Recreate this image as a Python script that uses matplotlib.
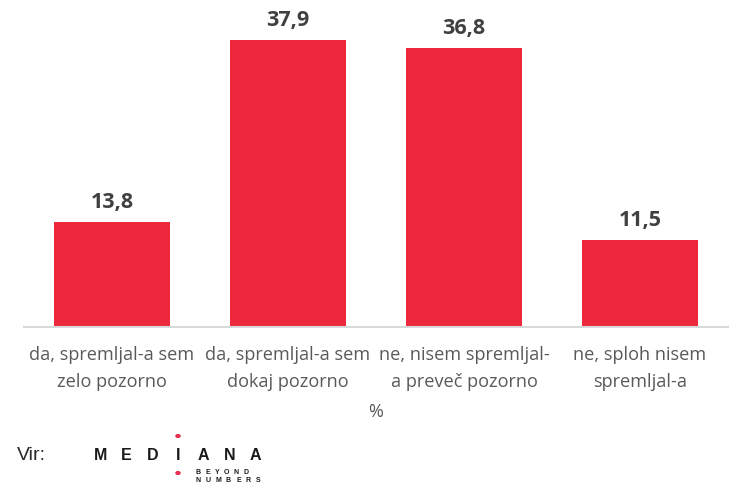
import matplotlib.pyplot as plt

categories = ['da, spremljal-a sem\nzelo pozorno', 'da, spremljal-a sem\ndokaj pozorno',
              'ne, nisem spremljal-\na preveč pozorno', 'ne, sploh nisem\nspremljal-a']
values = [13.8, 37.9, 36.8, 11.5]
value_labels = ['13,8', '37,9', '36,8', '11,5']

W, H = 751, 484
fig = plt.figure(figsize=(W / 100, H / 100), dpi=100)
ax = fig.add_axes([24 / W, 1 - 327 / H, 704 / W, 317 / H])

x = range(len(values))
ax.bar(x, values, width=0.66, color='#EE283C')
ax.set_xlim(-0.5, 3.5)
ax.set_ylim(0, 317 / 7.573)

for xi, v, lab in zip(x, values, value_labels):
    ax.text(xi, v + 1.2, lab, ha='center', va='bottom', fontsize=15.5, fontweight='bold',
            color='#404040', family='Open Sans')

for s in ['top', 'right', 'left']:
    ax.spines[s].set_visible(False)
ax.spines['bottom'].set_color('#D9D9D9')
ax.spines['bottom'].set_linewidth(1.5)
ax.set_yticks([])
ax.set_xticks(list(x))
ax.set_xticklabels(categories, fontsize=13.1, color='#595959', family='Open Sans', linespacing=1.6)
ax.tick_params(axis='x', length=0, pad=14)

fig.text(376 / W, 1 - 412 / H, '%', ha='center', va='center', fontsize=13,
         color='#595959', family='Open Sans')

# source + logo
fig.text(17 / W, 1 - 456 / H, 'Vir:', ha='left', va='center', fontsize=14,
         color='#262626', family='Liberation Sans')
for i, ch in enumerate('MEDIANA'):
    fig.text((101 + i * 25.7) / W, 1 - 456 / H, ch, ha='center', va='center', fontsize=11.5,
             fontweight='bold', color='#1A1A1A', family='Liberation Sans')
for i, ch in enumerate('BEYOND'):
    fig.text((198 + i * 9.6) / W, 1 - 473 / H, ch, ha='center', va='center', fontsize=5,
             fontweight='bold', color='#1A1A1A', family='Liberation Sans')
for i, ch in enumerate('NUMBERS'):
    fig.text((198 + i * 10.1) / W, 1 - 481 / H, ch, ha='center', va='center', fontsize=5,
             fontweight='bold', color='#1A1A1A', family='Liberation Sans')
for yy in (436, 473):
    fig.add_artist(plt.Circle((178 / W, 1 - yy / H), 1.8 / W, transform=fig.transFigure,
                              facecolor='#F4A0AE', edgecolor='#E6294B', linewidth=1.3))

fig.savefig('out.png', dpi=100)
